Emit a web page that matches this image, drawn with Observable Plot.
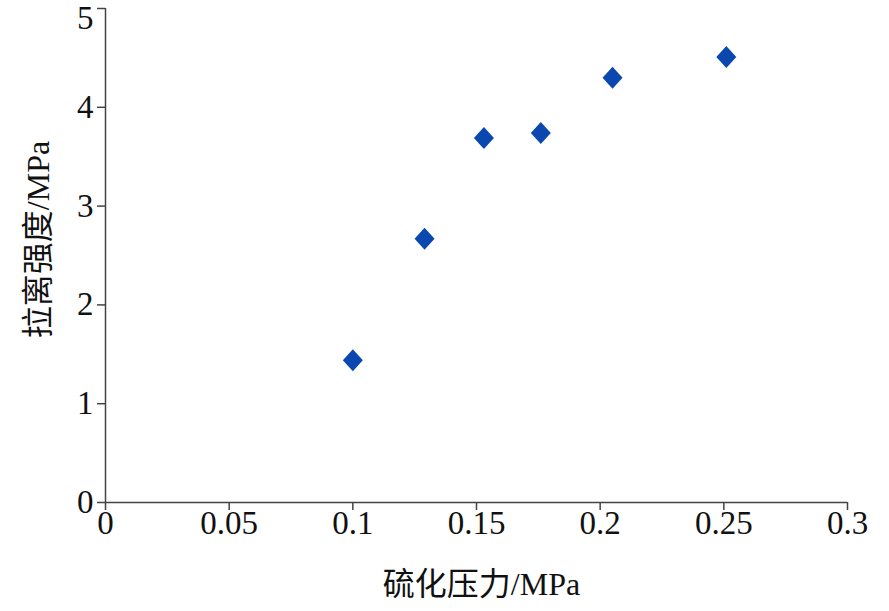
<!DOCTYPE html>
<html>
<head>
<meta charset="utf-8">
<script src="https://cdn.jsdelivr.net/npm/d3@7"></script>
<script src="https://cdn.jsdelivr.net/npm/@observablehq/plot@0.6"></script>
<style>
  html, body { margin: 0; padding: 0; background: white; }
</style>
</head>
<body>
<div id="chart"></div>
<script>
const pressure = [0.1, 0.129, 0.153, 0.176, 0.205, 0.251];
const strength = [1.44, 2.67, 3.69, 3.74, 4.30, 4.51];
const xTicks = [0, 0.05, 0.1, 0.15, 0.2, 0.25, 0.3];
const yTicks = [0, 1, 2, 3, 4, 5];
const yTicksLow = [0, 1, 2, 3, 4];
const yTicksTop = [5];
const xTitle = "硫化压力/MPa";
const yTitle = "拉离强度/MPa";

const data = pressure.map((p, i) => ({x: p, y: strength[i]}));

const diamond = {
  draw(context, size) {
    const s = Math.sqrt(size / Math.PI);
    context.moveTo(0, -1.1 * s);
    context.lineTo(s, 0);
    context.lineTo(0, 1.1 * s);
    context.lineTo(-s, 0);
    context.closePath();
  }
};

const font = "'Liberation Serif', 'Times New Roman', 'Noto Sans CJK SC', serif";
const axisColor = "#444";

const chart = Plot.plot({
  width: 889,
  height: 611,
  marginLeft: 105,
  marginRight: 42,
  marginTop: 8,
  marginBottom: 109,
  x: {domain: [0, 0.3]},
  y: {domain: [0, 5]},
  style: {fontFamily: font, fontSize: "33px", color: "#111", background: "white"},
  marks: [
    Plot.axisX({ticks: xTicks, tickSize: 8, tickPadding: 0, tickFormat: d => String(d),
      label: null, stroke: axisColor, strokeWidth: 1.5}),
    Plot.axisY({ticks: yTicks, tickSize: 8, tickPadding: 4,
      tickFormat: d => (yTicksLow.includes(d) ? String(d) : ""),
      label: null, stroke: axisColor, strokeWidth: 1.5}),
    Plot.axisY({ticks: yTicksTop, tickSize: 0, tickPadding: 12, dy: 10,
      tickFormat: d => String(d), label: null}),
    Plot.ruleY([0], {stroke: axisColor, strokeWidth: 1.5}),
    Plot.ruleX([0], {stroke: axisColor, strokeWidth: 1.5}),
    Plot.dot(data, {x: "x", y: "y", symbol: diamond, r: 10, fill: "#0a48b0", stroke: "none"}),
    Plot.text([xTitle], {frameAnchor: "bottom", textAnchor: "middle", dx: 5, dy: 82, lineAnchor: "middle",
      fontSize: 32, fill: "#111"}),
    Plot.text([yTitle], {frameAnchor: "left", textAnchor: "middle", rotate: -90, dx: -67, dy: -16,
      lineAnchor: "middle", fontSize: 32, fill: "#111"})
  ]
});
document.getElementById("chart").appendChild(chart);
</script>
</body>
</html>
